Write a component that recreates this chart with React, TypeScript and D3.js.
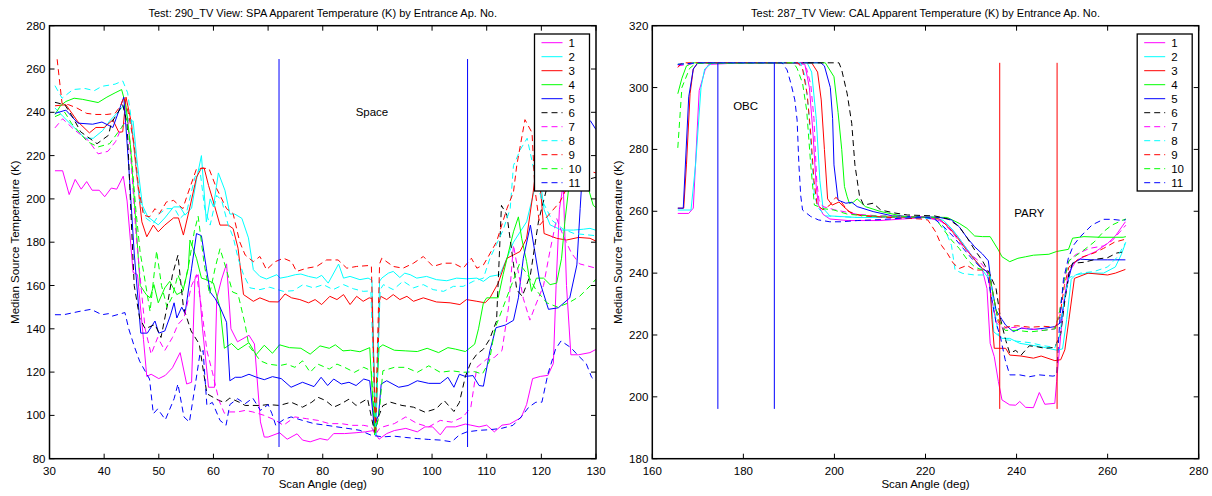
import React from "react";
import * as d3 from "d3";

type P = [number, number];

const leftTitle = "Test: 290_TV View: SPA Apparent Temperature (K) by Entrance Ap. No.";
const rightTitle = "Test: 287_TV View: CAL Apparent Temperature (K) by Entrance Ap. No.";
const xLabel = "Scan Angle (deg)";
const yLabel = "Median Source Temperature (K)";
const seriesNames = ["1", "2", "3", "4", "5", "6", "7", "8", "9", "10", "11"];
const seriesColors = ["#ff00ff", "#00ffff", "#ff0000", "#00ff00", "#0000ff", "#000000", "#ff00ff", "#00ffff", "#ff0000", "#00ff00", "#0000ff"];
const seriesDashed = [false, false, false, false, false, true, true, true, true, true, true];

const leftXTicks = [30, 40, 50, 60, 70, 80, 90, 100, 110, 120, 130];
const leftYTicks = [80, 100, 120, 140, 160, 180, 200, 220, 240, 260, 280];
const rightXTicks = [160, 180, 200, 220, 240, 260, 280];
const rightYTicks = [180, 200, 220, 240, 260, 280, 300, 320];

// markers: SPA view
const spaLines = [72, 106.5];
const spaLineSpan: P = [85.4, 264.6];
const spaText = { label: "Space", x: 89, y: 240 };
// markers: CAL view
const obcLines = [174.4, 186.8];
const paryLines = [236.3, 248.9];
const calLineSpan: P = [196.1, 308];
const obcText = { label: "OBC", x: 180.5, y: 294 };
const paryText = { label: "PARY", x: 242.8, y: 259.6 };

// ---------- SPA view (left) ----------
const spa1: P[] = [[31,213],[32.4,213],[33.6,202],[34.7,209],[35.8,204.5],[36.8,208],[37.8,204],[39.1,204],[40.1,201],[41.3,205],[42.3,204.5],[43.5,210.5],[44.2,199],[45.3,166],[46.1,165],[47.2,135],[47.8,118],[48.6,119],[50,117],[51.2,118.5],[52.5,122],[53.9,129],[55.1,114.5],[56,115.3],[56.6,163],[57.2,165],[58,140],[59.1,113],[60.2,113],[60.6,154],[61.5,163],[62.4,170],[63.2,140],[64.4,134],[66.5,137],[67.5,133],[68.6,97],[69.3,90],[70,90],[72.1,92],[73.5,89],[75.3,91.5],[76.3,88.6],[77.7,87.8],[79.5,89.3],[80.9,88.6],[82,91.6],[84,91.6],[86.1,92],[87.8,92.4],[89.3,93],[90.3,89],[91.7,91.6],[93.1,93],[95.2,94],[97.3,92.4],[98.7,94.7],[100.1,94.7],[101.5,91],[102.6,94.7],[104.3,94.7],[106.1,96],[107.1,95.5],[108.6,94.7],[110,95.5],[111.4,92.4],[112.8,95.5],[114.2,96],[116.3,99],[117.3,105],[118.4,117],[119.8,118],[121.2,118.5],[122.2,124],[122.7,160],[123.3,195],[124,207],[124.6,160],[125.4,128],[126.8,128],[128.9,129],[130,130.5]];
const spa2: P[] = [[31,242],[32.5,238],[34.5,233],[36.5,228],[38,228],[39.7,231.5],[41,236],[42.5,240],[43.5,243],[44.5,236],[45.3,236],[46,218],[47,197],[48,191.7],[49.9,188],[51.1,191.2],[52.7,196.3],[53.9,196.3],[54.8,192.5],[56,195.8],[56.9,209],[57.8,220],[58.7,189.4],[59.4,200],[60,196.3],[60.9,212],[62.1,204],[63,193],[63.9,193],[65.2,191],[66.4,182],[67.3,167.3],[68.5,164.2],[69.7,163],[71.6,165],[72.2,163.4],[73.5,164],[75,165],[76,165.3],[77.4,164.2],[78.9,163.4],[79.8,164.7],[81,161.1],[82.9,169.9],[83.8,163.4],[85,164.2],[86.8,162.7],[88.3,163.4],[89,162.5],[89.7,91],[90.4,162],[90.8,163.4],[92,165.7],[92.9,166.5],[94.1,163.7],[95,165.7],[96,165],[97.2,163.4],[99,164.2],[100.8,162.7],[102.7,162.2],[104.5,163.4],[106.3,163.1],[108.2,163.4],[109.4,161.9],[110.6,164.2],[112.4,165],[113.7,172.6],[114.9,180],[117.3,189.4],[118.8,205],[119.5,215],[120.5,195],[121.6,188],[123.7,185.6],[125.9,185.6],[127.7,186],[128.9,186.4],[130,185.5]];
const spa3: P[] = [[31,243],[33,243.5],[35.2,235.6],[37.3,230.5],[38.5,233],[40,233],[41.6,236.5],[42.7,230.7],[43.4,231],[44,247],[45,235],[45.8,215],[46.9,189.4],[47.8,182.5],[49,187.9],[49.9,184.8],[51.1,187.9],[52.7,191.2],[53.6,191.2],[54.5,183.3],[55.7,196.3],[56.9,210],[57.8,214.2],[58.3,214.2],[59.1,206.2],[60,198.6],[61.2,187.9],[62.7,187.9],[63.6,186.3],[64.5,177.2],[65.5,155.8],[67.3,152.7],[68.5,154.3],[70.3,152.5],[71.9,152.4],[73.1,156.1],[74.3,154.3],[75.8,153.5],[77.4,152],[78.6,153.5],[79.8,151.2],[81.3,155],[82.6,153.5],[83.8,155.8],[85,151.2],[86.2,155],[87.4,152.7],[88.5,154.3],[89,154],[89.7,92],[90.4,153],[90.6,155],[91.7,153.5],[92.9,155.8],[94.1,153.5],[95.4,155],[96.6,152.7],[98.4,154.3],[100.8,152.4],[103.3,152],[105.1,151.2],[106.3,153.5],[108.2,152.7],[109.7,152],[110.6,154.3],[112.1,161.1],[113.7,172.6],[114.9,174.1],[116.1,175.7],[117.3,181.8],[118.5,203],[119.2,218],[120,200],[120.5,184],[122.8,181.8],[124.6,181],[126.8,182.2],[128.9,181.8],[130,180.5]];
const spa4: P[] = [[31,239],[32,243],[33,245],[34.5,246.5],[36,246],[38.9,244.5],[40.5,247],[42,249],[43.2,250.5],[44,243],[44.8,225],[45.5,200],[46.6,160],[47.7,155.8],[48.4,154.3],[49.1,160.4],[49.9,152],[51.1,158.9],[52,161.9],[53.3,155.8],[54.4,157.3],[55.4,168],[55.7,181],[56.9,172.6],[57.8,163.4],[58.7,162.7],[60,161.1],[61.2,149.7],[62,131],[63.3,133.2],[64.5,130.3],[66.5,133.6],[67.8,128],[69.3,132.4],[70.8,128.7],[72.1,132.6],[73.9,131.3],[76,131],[77.7,128.3],[79.5,132.1],[81.2,131],[82.3,132.6],[83.7,129.8],[85.1,130.1],[86.8,129.4],[88.6,131.3],[89.5,91],[90.3,131.3],[91,132.6],[93.1,130.1],[95.2,129.8],[97.3,129.5],[99.1,131],[101.2,129],[102.9,131.3],[104.3,130.6],[106.1,129.5],[107.8,132.9],[108.5,140],[109.4,152],[110,154.3],[112.1,154.3],[113,165],[114.9,184.8],[115.8,191.7],[116.4,181.8],[117.3,171],[118.2,157.3],[119.1,163.4],[120.4,163.4],[121.6,160.4],[122.8,161.1],[123.7,172.6],[124.3,189.4],[125.2,209.3],[126.2,222],[127,225],[128,210],[129.5,197],[130,196]];
const spa5: P[] = [[31,239.5],[33,241],[35.2,235],[37.9,234.5],[39.6,235.5],[41.6,233],[43.6,247],[44.5,215],[45.5,175],[46.7,138],[47.9,138],[49.3,143.6],[50,138],[51.1,139],[52.1,146],[52.8,152],[53.3,145],[54.2,150],[54.8,147],[56,168],[56.9,184],[57.8,183],[58.7,168],[59.4,157],[60.3,154],[61.2,150],[62.4,143],[63,116],[64,117.6],[65.1,117.6],[66.5,119],[67.9,117.6],[69.3,116.5],[70.8,117.9],[72.4,117],[74.2,113],[76.3,115.3],[78.4,113.3],[79.7,117.6],[80.9,113.8],[82,116.8],[83.4,114.5],[84.8,115.3],[86.1,113.8],[87.5,116.8],[88.6,116],[89.4,95],[90.2,100],[90.7,114.5],[91.7,116],[93.9,113],[95.6,113.8],[97.3,116],[99.4,114.8],[101.5,114.8],[102.9,117.6],[104,113],[105,119],[106.1,118],[107.5,118.4],[108.6,113.8],[109.4,113.5],[110.6,130],[111.7,140.5],[113.4,141.7],[114.9,143.9],[115.8,154.3],[116.7,172.6],[118,187.9],[118.8,175.7],[119.7,161.9],[121.3,149],[123.1,149.7],[125.2,154.3],[126.5,169.5],[127.1,195.5],[127.7,220],[128.5,237],[129,236],[130,232]];
const spa6: P[] = [[31,244.6],[32.8,243.5],[34.2,238],[35.7,231],[37,228.6],[38.7,225.5],[40.8,229.4],[41.3,235],[43.4,243.5],[44.2,235],[44.7,205],[45.5,160],[46.5,145],[47.5,140],[49.3,142],[50.4,136],[51.5,150],[52.5,165],[53.5,174],[54.5,150],[55.9,139],[57.4,133],[58.8,110],[60.9,107],[62,106],[63,108],[64.8,106],[65.8,104.6],[68.6,104.6],[70,105],[72.1,104.6],[74.2,106.1],[76.3,103.8],[78,106.1],[79.1,108.4],[80.5,106.9],[82,103.8],[83.4,105.4],[84.8,107.5],[86.1,104.6],[88.2,107.7],[89.5,92],[90.3,100],[91,104.5],[92.4,106.1],[94.5,104.6],[96.6,103.8],[98.7,101.5],[100.8,103.1],[102.2,106.9],[104,101.8],[105,106],[106.1,118],[107.1,124.5],[108.2,128.3],[109.4,130.6],[110.5,135],[111.8,143.6],[112.7,197],[113.7,192.5],[114.9,170],[115.5,158],[116.5,155],[118,165],[119.5,190],[121,205],[123,212],[125,205],[127,208],[130,210]];
const spa7: P[] = [[31,232.8],[32.4,237],[34.5,232],[37.1,227],[38.9,220.8],[40.7,222],[42.1,226.5],[43.2,233],[44.3,237],[45,215],[45.8,185],[46.5,166],[47.5,140],[48.6,128.3],[49.8,136],[51.1,130],[52.5,136],[53.5,142],[54.6,145],[56,160],[56.9,165],[57.8,150],[58.8,130],[59.8,120],[61,107],[62,101],[63,101.6],[64.4,101.6],[65.8,102.3],[67.2,101.6],[69.3,100],[71.4,97.7],[72.8,95.4],[74.9,99.3],[77,98.5],[79.1,97.7],[81.2,96.2],[83.4,96.2],[85.4,95.4],[87.5,95.4],[88.9,94.7],[89.6,91],[90.4,94],[91,94.7],[93.1,96.2],[95.2,99.3],[97.3,96.2],[99.4,94.7],[101.5,97.7],[103.6,96.9],[105.7,99.3],[107.1,103.8],[108.2,122.2],[110,126],[111.4,126.8],[112.8,130],[114,150],[114.9,178.7],[115.5,170],[116.7,154],[117.9,144],[118.8,150],[120.4,160],[121.5,175],[122.8,191],[124,183],[125.5,175],[127,170],[130,168]];
const spa8: P[] = [[31,252.3],[32.3,246.5],[34.3,250.5],[36.5,251],[38.2,250],[39.6,252],[42,253],[43.4,254.5],[44.3,249],[45,236],[45.6,222],[46.4,200],[47.7,191],[49,188.6],[50.1,193.2],[51.4,195.5],[52.9,195.5],[53.9,191],[55.1,194],[56.6,210],[57.5,213.9],[58.4,195.5],[59.4,187.9],[60.6,201.6],[61.5,199.3],[62.7,187.9],[63.6,182.5],[64.5,172.6],[65.5,165],[66.7,158.9],[68.5,158.1],[70.3,159.2],[72.8,157.3],[74.6,157.6],[76.4,160.4],[78.3,158.9],[80.1,160.4],[81.9,158.1],[83.8,160.4],[85.6,158.5],[87.4,157.3],[88.8,157.5],[89.7,91],[90.5,158],[91.1,160.4],[92.9,158.1],[94.7,162],[96.6,158.9],[98.4,160.4],[100.2,158.1],[102.1,157.3],[103.9,159.6],[105.7,159.6],[107.6,162],[109.4,163.4],[110.6,172.6],[111.8,179],[113,185.6],[114.3,195.5],[114.9,215.4],[116.2,223],[117.4,228],[118.5,215],[120,200],[122,190],[124,186],[126,184],[128,183.5],[130,183]];
const spa9: P[] = [[31.4,264.5],[32.3,244],[33.5,243.5],[35,242],[36.8,239.5],[38.5,239],[40.5,239],[42,239.5],[43,243],[43.6,247],[44.4,240],[45.5,225],[46.3,205],[47.2,192.5],[48.3,191.7],[49.3,195.5],[50.1,193.2],[51.4,198.6],[52.7,199.3],[54.4,195.5],[55.1,200.9],[56.9,213.9],[58.1,214.2],[59.2,213.9],[60.6,204.7],[62.4,195.5],[63.6,193.2],[64.8,180.2],[65.8,174.1],[67.3,171],[68.5,173.4],[69.7,167.3],[71.3,171],[72.8,172.6],[74.3,171],[75.2,166.5],[77.1,168],[78.9,168.8],[80.7,171.8],[82.8,171.8],[84.4,168],[86.2,168.8],[88.3,169.2],[88.9,169],[89.6,91],[90.4,170],[90.8,172.6],[92.9,168.8],[94.7,168],[96.6,170.3],[98.4,173.4],[100.2,168.8],[102.1,170.3],[103.9,170.3],[105.7,168],[107.2,172.6],[108.2,168],[109.4,169.5],[110.3,173.4],[111.8,180.2],[113.7,195.5],[114.9,203.2],[115.5,215.4],[117,236.6],[118.3,230.5],[118.8,205],[119.7,187.9],[121.3,192.5],[123.4,198.6],[124.6,204.7],[126.5,210],[128.5,213],[130,212]];
const spa10: P[] = [[31,238],[32.8,240],[34,235],[36.9,226.5],[38.9,224],[41,225.5],[43.2,233],[44.2,237],[45,220],[45.8,195],[46.6,175],[47.2,166.5],[48.4,148],[49.6,176],[50.5,160],[51.5,150],[52.5,155],[53.5,165],[54.5,158],[55.5,170],[56.5,185],[57.2,192],[58.3,170],[59.3,156],[60.3,168],[61.2,177],[62.3,168],[63.5,157],[64.5,156],[65.8,142],[66.5,132],[68.6,125.2],[70,123.7],[72.1,123],[73.4,123.7],[74.9,122.2],[76.3,125.2],[77.7,119.9],[79.1,123.7],[81.2,121.4],[82.6,123.7],[84,122.2],[85.8,119.9],[87.5,122.2],[88.9,120.6],[89.6,92],[90.3,100],[91,120.6],[93.1,122.2],[95.2,122.2],[97.3,119.9],[99.4,122.9],[101.5,119.9],[103.6,120.6],[105.7,119.9],[107.8,120.2],[109.2,119.1],[110.5,125],[111.5,140],[113,150],[114.5,160],[116,170],[117.5,165],[119,158],[121,152],[123,150],[125,152],[127,155],[129,160],[130,163]];
const spa11: P[] = [[31,146.5],[32.6,146.5],[35.4,148],[37.6,149],[39.6,146.5],[40.8,147],[41.4,145.8],[43.8,147.5],[44.5,140],[45.5,132],[46.5,125],[48.3,116.8],[49,100.8],[49.8,103],[51.2,98],[52.8,107.7],[53.5,114.5],[54.6,99.3],[55.6,96.9],[56.7,114.5],[57.5,128],[58.1,130],[58.8,104.6],[59.8,106],[61.2,97.7],[62.3,95.4],[63,105],[64.4,107.7],[65.8,105.4],[67.2,108],[68.6,102.3],[70,105],[70.7,100.8],[71.4,95.4],[72.8,98],[74.2,99.3],[76.3,97.7],[78.4,96.2],[80.5,95.5],[82.6,94.7],[84.8,93.9],[86.8,93.1],[88.9,90.8],[91,90.1],[93.1,90.4],[95.2,89.8],[97.3,89.3],[99.4,88.9],[101.5,88.6],[103.6,87.8],[105,91],[106.4,92.4],[108.6,93.1],[110.6,93.4],[112.7,94],[114.8,95.4],[116.3,99.3],[117.7,103.8],[119,106.1],[120.1,106.1],[121.2,119.1],[122.6,130.6],[123.6,134.4],[125.4,131.3],[126.8,127.5],[128.2,124],[129.2,117.6],[130,116]];

// ---------- CAL view (right) ----------
const cal1: P[] = [[165.6,259.3],[168,259.3],[169,261],[170.3,299],[171.6,305.7],[172.4,307.5],[180,308],[190,308],[193.5,307.5],[194.5,300],[195.3,285],[196,268],[196.5,262],[197.5,259],[199,257.5],[203,257],[210,257],[215,257.5],[220,258],[223,257],[225,255.5],[227,252],[229,248],[231,244],[232.5,241],[233.5,235],[234.2,217.3],[235.1,213],[236,205],[236.8,199],[238.5,197.4],[239.8,197.3],[240.7,198.5],[242,196.6],[243.7,196.5],[245,201.4],[246.2,197.6],[248.4,197.9],[248.8,205],[249.7,220],[250.5,232],[251.4,240],[253.1,244],[254.8,245.3],[257.4,247],[260,249.6],[261.7,252],[263.9,256.6]];
const cal2: P[] = [[165.6,260.4],[168.5,260.4],[169.5,275],[170.7,300],[171.5,306],[173,307.8],[194,308],[195,305],[196,290],[196.8,270],[197.5,261],[199,258.5],[205,258],[215,258],[222,258],[224,257],[226,254],[228,250],[230,246],[232,242],[234,238],[235,221],[236.8,218.9],[238.5,218.9],[240.7,217.3],[242.8,216.8],[245.4,216.2],[248.8,215.1],[250.1,215.5],[251,225],[252,238],[253,239.5],[255.7,240],[259.1,240],[261.7,242],[263,246],[263.9,249.6]];
const cal3: P[] = [[165.6,261],[166.9,261],[167.5,275],[168.3,298],[169,306],[170,308],[195,308],[196.3,305],[197.1,296],[197.8,280],[198.5,264],[199.5,262],[201,263],[202,261.5],[204,259],[210,258.2],[220,258],[223,257.5],[225,255],[227,251.5],[229,247.5],[231,244],[232.5,241.5],[234,240],[234.6,225],[235.1,215.7],[237.6,215.7],[238.5,213.5],[241,213.2],[243.7,212.5],[245.4,213.2],[248.4,211.7],[249.7,212],[250.6,215.2],[251.5,225],[252.7,238.3],[255.7,240],[260,239.4],[261.7,240],[263.9,241.2]];
const cal4: P[] = [[165.6,298],[166.5,303],[167.5,307],[169,308],[198,308],[199.9,303.5],[200.8,292],[201.6,280],[202.2,268],[202.8,264.7],[203.3,262.5],[204.2,263],[205,264],[206.8,261.5],[210.2,259.9],[215.4,258.3],[221.4,258.1],[224.8,258],[227.4,256.1],[229.1,254.5],[230.8,252],[232.5,251.8],[234.2,251.8],[236,247.5],[236.8,245.3],[238.5,243.7],[240.3,244.8],[242,245.3],[243.7,245.8],[247.1,246.1],[248.8,247],[251.4,247.7],[252.3,251.3],[254.8,251.8],[258.3,251.6],[263.4,251.6],[264,251.8]];
const cal5: P[] = [[165.6,261],[166.8,261],[168,297],[169,306],[170,308],[197,308],[197.8,307],[199.1,300],[199.6,290],[199.9,275],[200.8,263.6],[202.5,262.6],[203.8,262.9],[205,261.5],[208.5,259.9],[212.8,258.5],[223.1,258],[225.7,257.2],[227.4,255],[229.1,251.5],[230.8,248.5],[232.5,246.2],[233.8,244],[234.5,236],[235.5,228],[236.8,225],[237.6,223.2],[239.3,221.1],[241,222.2],[243.7,221.8],[246.2,222.2],[248.4,222.7],[249.7,224],[250.6,232],[251.4,238],[252.3,243.2],[254,244.5],[256.6,244.3],[260,244.3],[263.9,244.3]];
const cal6: P[] = [[165.6,307.5],[170,308],[201,308],[201.6,305.7],[202.8,298],[203.8,288.4],[204.5,275],[205.5,265],[206.4,262],[208.5,262.6],[210.2,260.4],[213,259.5],[216,258.8],[222,258.5],[225,257.5],[227.4,255],[229.1,251.5],[230.8,247.5],[232.5,244],[234,240],[235.5,235],[236.5,225],[237.6,218.4],[238.5,214.1],[239.8,215],[241,213.5],[242.8,216.5],[244.5,216.2],[246.2,215.7],[248.4,216],[249.7,220.5],[250.5,230],[251.5,240],[252.3,243.2],[254.8,243.5],[257.4,244.5],[260,245],[262,246.5],[264,247]];
const cal7: P[] = [[165.6,307],[170,308],[193,308],[193.9,306],[194.8,301],[195.5,290],[196.1,270],[196.6,263.6],[197.5,261.5],[200,260.5],[205,259],[210,258.5],[220,258.2],[223,257.5],[226,253],[228,249],[230,246],[232,243.5],[233.5,241],[234.5,232],[235.5,224],[237,222.2],[240,222.5],[243,222],[246,221.5],[248.5,222],[249.5,228],[250.5,238],[251.5,244],[253,246],[256,248],[259.1,248.8],[261,250.5],[264,255.5]];
const cal8: P[] = [[165.6,307.5],[170,308],[192.5,308],[193.5,304],[194.3,293],[195,278],[195.6,265],[196.5,261],[198,258.5],[205,258],[215,258],[222,257.5],[224,255],[225.7,249],[226.5,241],[228.2,239.9],[230.8,239.4],[233.4,239.4],[234.2,239],[235,230],[236,220],[237.5,218.5],[240,218],[243,217.5],[246,216.5],[248.5,216],[249.5,220],[250.5,232],[251.5,238.5],[254,240],[257,240.5],[260,242],[262,245],[264,250]];
const cal9: P[] = [[165.6,306.5],[166.5,308],[192,308],[193,306],[194,298],[194.8,285],[195.5,270],[196.2,262],[197.5,260.5],[199,262],[200.3,264.5],[201.5,263],[203,260],[206,258.5],[212,258],[219,257.5],[220.5,257.2],[222.2,253.4],[223.5,249],[224.8,246.4],[226.1,243.2],[227.4,241.5],[229.1,242.5],[230.8,241],[232.5,241],[234,240],[235,232],[236,224],[237.5,222.5],[240,223],[243,222.5],[246,222.8],[248.5,222.5],[249.5,226],[250.5,236],[251.5,242],[254,245],[257,246.5],[259.1,248],[261.5,250],[264,251]];
const cal10: P[] = [[165.6,280.5],[166.5,300],[168.2,306.2],[169.5,307.8],[191,308],[191.8,306.2],[193,301.4],[193.9,292.7],[194.8,275],[195.6,262],[197.8,260.8],[199.9,260.4],[203,259],[208,258.5],[215,258.3],[222,258],[224,254],[225.7,250.7],[227.4,248],[229.1,244.5],[230.8,242],[232.5,241],[234,240],[235,232],[236,225],[237.5,221.5],[240,221.5],[243,221],[246,221.5],[248.5,222],[249.5,228],[250.5,238],[251.5,244],[254.8,247.5],[257,250],[259.1,253.4],[260.9,255.5],[263.4,257.2],[264,257.5]];
const cal11: P[] = [[165.6,307.5],[170,308],[188.5,308],[189.6,305.7],[190.5,301],[191.3,296],[191.8,289.5],[192.2,275],[192.6,265],[193,260.4],[194.8,258.3],[196.5,257.2],[199,256.6],[201.6,256.6],[205,257],[210,257.3],[215,257.8],[220,258],[222,257.5],[224,255],[226,252],[228,248.5],[230,245],[232,242],[233.5,240.5],[234.5,232],[235.5,224],[236.5,219],[237.5,212],[238.5,207.1],[240.7,207.1],[242.8,206.5],[245,207.1],[248,206.7],[248.8,207],[249.5,225],[250.3,238],[251.4,245],[252.5,249],[254,251.8],[256.6,255.6],[259.1,257.4],[260.9,257.4],[263.4,257],[264,257.3]];

const spaSeries = [spa1, spa2, spa3, spa4, spa5, spa6, spa7, spa8, spa9, spa10, spa11];
const calSeries = [cal1, cal2, cal3, cal4, cal5, cal6, cal7, cal8, cal9, cal10, cal11];

const FONT = "'Liberation Sans', Arial, Helvetica, sans-serif";

interface VL { x: number; color: string }
interface TX { label: string; x: number; y: number }

function Panel(props: {
  id: string;
  title: string;
  xDomain: [number, number];
  yDomain: [number, number];
  xRange: [number, number];
  yRange: [number, number];
  xTicks: number[];
  yTicks: number[];
  series: P[][];
  vlines: VL[];
  vspan: P;
  texts: TX[];
  yLabelX: number;
}) {
  const { id, title, xDomain, yDomain, xRange, yRange, xTicks, yTicks, series, vlines, vspan, texts, yLabelX } = props;
  const x = d3.scaleLinear().domain(xDomain).range(xRange);
  const y = d3.scaleLinear().domain(yDomain).range(yRange);
  const line = d3.line<P>().x((d) => x(d[0])).y((d) => y(d[1]));
  const left = xRange[0], right = xRange[1], top = yRange[1], bottom = yRange[0];
  const tk = 5;
  const legW = 55, legH = 157;
  const legX = right - 6.5 - legW, legY = 34;
  return (
    <g>
      <defs>
        <clipPath id={id}>
          <rect x={left} y={top} width={right - left} height={bottom - top} />
        </clipPath>
      </defs>
      <g clipPath={`url(#${id})`}>
        {series.map((s, i) => (
          <path key={i} d={line(s) || ""} fill="none" stroke={seriesColors[i]} strokeWidth={1}
            strokeDasharray={seriesDashed[i] ? "6,4" : undefined} />
        ))}
        {vlines.map((v, i) => (
          <line key={i} x1={x(v.x)} x2={x(v.x)} y1={y(vspan[0])} y2={y(vspan[1])} stroke={v.color} strokeWidth={1} />
        ))}
      </g>
      {texts.map((t, i) => (
        <text key={i} x={x(t.x)} y={y(t.y)} textAnchor="middle" dominantBaseline="central" fontSize={11.5} fontFamily={FONT}>{t.label}</text>
      ))}
      {/* ticks */}
      {xTicks.map((t, i) => (
        <g key={"xt" + i}>
          <line x1={x(t)} x2={x(t)} y1={bottom} y2={bottom - tk} stroke="#000" strokeWidth={1} />
          <line x1={x(t)} x2={x(t)} y1={top} y2={top + tk} stroke="#000" strokeWidth={1} />
          <text x={x(t)} y={bottom + 12} textAnchor="middle" dominantBaseline="central" fontSize={11.5} fontFamily={FONT}>{t}</text>
        </g>
      ))}
      {yTicks.map((t, i) => (
        <g key={"yt" + i}>
          <line x1={left} x2={left + tk} y1={y(t)} y2={y(t)} stroke="#000" strokeWidth={1} />
          <line x1={right} x2={right - tk} y1={y(t)} y2={y(t)} stroke="#000" strokeWidth={1} />
          <text x={left - 4} y={y(t)} textAnchor="end" dominantBaseline="central" fontSize={11.5} fontFamily={FONT}>{t}</text>
        </g>
      ))}
      <rect x={left} y={top} width={right - left} height={bottom - top} fill="none" stroke="#000" strokeWidth={1.5} />
      <text x={(left + right) / 2} y={13} textAnchor="middle" dominantBaseline="central" fontSize={11} fontFamily={FONT}>{title}</text>
      <text x={(left + right) / 2} y={484} textAnchor="middle" dominantBaseline="central" fontSize={11.5} fontFamily={FONT}>{xLabel}</text>
      <text transform={`translate(${yLabelX},${(top + bottom) / 2}) rotate(-90)`} textAnchor="middle" dominantBaseline="central" fontSize={11.5} fontFamily={FONT}>{yLabel}</text>
      {/* legend */}
      <rect x={legX} y={legY} width={legW} height={legH} fill="#fff" stroke="#000" strokeWidth={1.3} />
      {seriesNames.map((n, i) => {
        const yy = legY + 8.7 + i * 14;
        return (
          <g key={"lg" + i}>
            <line x1={legX + 7} x2={legX + 28} y1={yy} y2={yy} stroke={seriesColors[i]} strokeWidth={1}
              strokeDasharray={seriesDashed[i] ? "6,4" : undefined} />
            <text x={legX + 34} y={yy} dominantBaseline="central" fontSize={11.5} fontFamily={FONT}>{n}</text>
          </g>
        );
      })}
    </g>
  );
}

export default function App() {
  return (
    <div style={{ position: "absolute", left: 0, top: 0, width: 1212, height: 496, background: "#fff" }}>
      <svg width={1212} height={496} viewBox="0 0 1212 496" style={{ display: "block" }}>
        <rect x={0} y={0} width={1212} height={496} fill="#fff" />
        <Panel id="clipL" title={leftTitle} xDomain={[30, 130]} yDomain={[80, 280]} xRange={[49.5, 596]} yRange={[458.7, 25.7]}
          xTicks={leftXTicks} yTicks={leftYTicks} series={spaSeries}
          vlines={spaLines.map((v) => ({ x: v, color: "#0000ff" }))} vspan={spaLineSpan} texts={[spaText]} yLabelX={15} />
        <Panel id="clipR" title={rightTitle} xDomain={[160, 280]} yDomain={[180, 320]} xRange={[652.3, 1198.7]} yRange={[458.7, 25.7]}
          xTicks={rightXTicks} yTicks={rightYTicks} series={calSeries}
          vlines={[...obcLines.map((v) => ({ x: v, color: "#0000ff" })), ...paryLines.map((v) => ({ x: v, color: "#ff0000" }))]}
          vspan={calLineSpan} texts={[obcText, paryText]} yLabelX={617.6} />
      </svg>
    </div>
  );
}
